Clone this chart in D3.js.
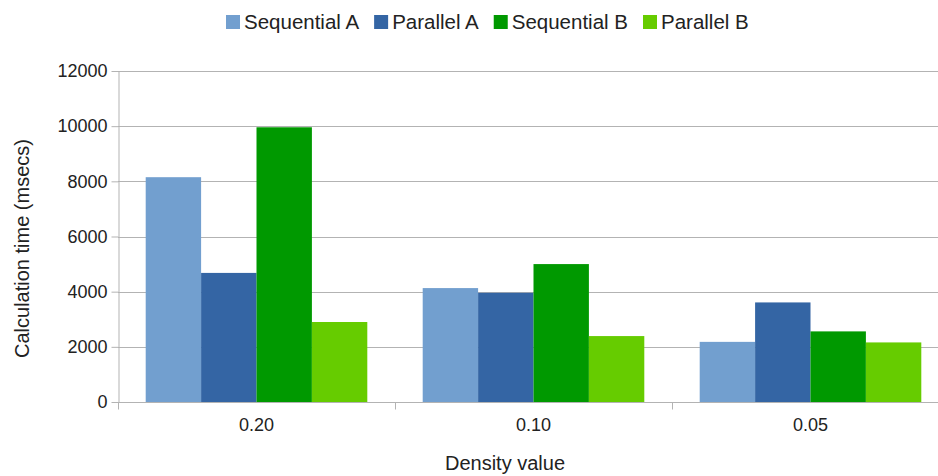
<!DOCTYPE html>
<html>
<head>
<meta charset="utf-8">
<script src="https://cdn.jsdelivr.net/npm/d3@7"></script>
<style>
  html, body { margin: 0; padding: 0; background: #fff; overflow: hidden; }
  svg { display: block; font-family: "Liberation Sans", Arial, sans-serif; }
</style>
</head>
<body>
<svg id="chart" width="938" height="476"></svg>
<script>
// Density values along the x axis
const categories = ["0.20", "0.10", "0.05"];

// Series names and their calculation times (msecs), one value per density
const seriesNames = ["Sequential A", "Parallel A", "Sequential B", "Parallel B"];
const sequentialA = [8150, 4130, 2180];
const parallelA   = [4680, 3960, 3610];
const sequentialB = [9960, 5000, 2560];
const parallelB   = [2900, 2390, 2160];
const seriesValues = [sequentialA, parallelA, sequentialB, parallelB];

const yTicks = [0, 2000, 4000, 6000, 8000, 10000, 12000];
const colors = ["#729fcf", "#3465a4", "#009900", "#66cc00"];

const svg = d3.select("#chart");
const W = 938, H = 476;
const plot = { left: 118, right: 949, top: 71, bottom: 402 };

const x0 = d3.scaleBand().domain(categories).range([plot.left, plot.right]).padding(0);
const x1 = d3.scaleBand().domain(seriesNames)
  .range([x0.bandwidth() * 0.1, x0.bandwidth() * 0.9]).padding(0);
const y = d3.scaleLinear().domain([0, 12000]).range([plot.bottom, plot.top]);

const gridColor = "#b3b3b3";

// Horizontal gridlines
svg.append("g")
  .selectAll("line")
  .data(yTicks)
  .join("line")
  .attr("x1", plot.left).attr("x2", W)
  .attr("y1", d => Math.round(y(d)) + 0.5).attr("y2", d => Math.round(y(d)) + 0.5)
  .attr("stroke", gridColor).attr("stroke-width", 1);

// Bars
const groups = svg.append("g")
  .selectAll("g")
  .data(categories)
  .join("g")
  .attr("transform", d => `translate(${x0(d)},0)`);

groups.selectAll("rect")
  .data((d, i) => seriesNames.map((s, k) => ({ s, k, v: seriesValues[k][i] })))
  .join("rect")
  .attr("x", d => x1(d.s))
  .attr("width", x1.bandwidth())
  .attr("y", d => y(d.v))
  .attr("height", d => y(0) - y(d.v))
  .attr("fill", d => colors[d.k]);

// Y axis
const yAxis = svg.append("g")
  .attr("transform", `translate(${plot.left + 0.5},0)`)
  .call(d3.axisLeft(y).tickValues(yTicks).tickFormat(d3.format("d"))
    .tickSize(7).tickPadding(4).tickSizeOuter(0));
yAxis.select(".domain").attr("stroke", gridColor);
yAxis.selectAll(".tick line").attr("stroke", gridColor);
yAxis.selectAll(".tick text")
  .attr("font-size", 18).attr("fill", "#222")
  .attr("font-family", "Liberation Sans, Arial, sans-serif");

// X axis: ticks sit on category boundaries
const xAxisG = svg.append("g")
  .attr("transform", `translate(0,${plot.bottom + 0.5})`);
xAxisG.append("line")
  .attr("x1", plot.left).attr("x2", W)
  .attr("stroke", gridColor);
xAxisG.selectAll("line.tick")
  .data(categories)
  .join("line")
  .attr("class", "tick")
  .attr("x1", d => Math.round(x0(d)) + 0.5).attr("x2", d => Math.round(x0(d)) + 0.5)
  .attr("y1", 0).attr("y2", 7)
  .attr("stroke", gridColor);
xAxisG.selectAll("text")
  .data(categories)
  .join("text")
  .attr("x", d => x0(d) + x0.bandwidth() / 2)
  .attr("y", 28)
  .attr("text-anchor", "middle")
  .attr("font-size", 18)
  .attr("fill", "#222")
  .text(d => d);

// Axis titles
svg.append("text")
  .attr("x", 505).attr("y", 470)
  .attr("text-anchor", "middle")
  .attr("font-size", 20).attr("fill", "#222")
  .text("Density value");

svg.append("text")
  .attr("transform", `translate(29,${(plot.top + plot.bottom) / 2 + 12}) rotate(-90)`)
  .attr("text-anchor", "middle")
  .attr("font-size", 20).attr("fill", "#222")
  .text("Calculation time (msecs)");

// Legend
const legend = svg.append("g").attr("transform", "translate(226,15)");
let lx = 0;
seriesNames.forEach((name, k) => {
  const item = legend.append("g").attr("transform", `translate(${lx},0)`);
  item.append("rect").attr("width", 14).attr("height", 14).attr("fill", colors[k]);
  const t = item.append("text")
    .attr("x", 18).attr("y", 14)
    .attr("font-size", 20.5).attr("fill", "#222")
    .text(name);
  lx += 18 + t.node().getComputedTextLength() + 15;
});
</script>
</body>
</html>
